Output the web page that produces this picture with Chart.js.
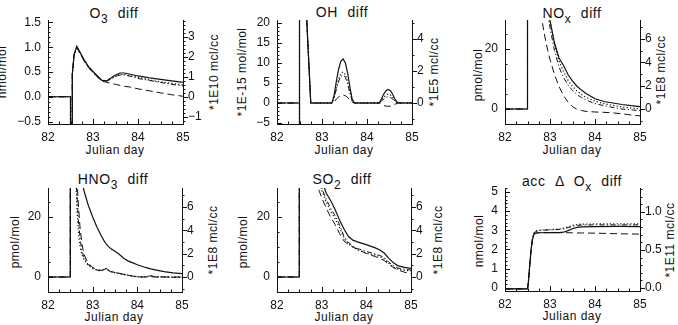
<!DOCTYPE html>
<html>
<head>
<meta charset="utf-8">
<script src="https://cdn.jsdelivr.net/npm/chart.js@4.4.1/dist/chart.umd.min.js"></script>
<style>
  body { margin: 0; background: #fff; width: 678px; height: 325px; position: relative; overflow: hidden;
         font-family: "Liberation Sans", Arial, sans-serif; color: #111; }
  canvas { position: absolute; }
  .t { position: absolute; white-space: nowrap; transform: translate(-50%, -50%); font-size: 12px; letter-spacing: 0.5px; }
  .ttl { font-size: 14px; word-spacing: 5px; letter-spacing: 0.6px; }
  .v { transform: translate(-50%, -50%) rotate(-90deg); }
  sub { font-size: 12px; vertical-align: -5px; line-height: 0; }
</style>
</head>
<body>
<div class="t ttl" style="left:114px;top:13px">O<sub>3</sub> diff</div>
<div class="t ttl" style="left:342px;top:12px">OH diff</div>
<div class="t ttl" style="left:572px;top:13px">NO<sub>x</sub> diff</div>
<div class="t ttl" style="left:113px;top:179px">HNO<sub>3</sub> diff</div>
<div class="t ttl" style="left:342px;top:179px">SO<sub>2</sub> diff</div>
<div class="t ttl" style="left:572px;top:181px">acc Δ O<sub>x</sub> diff</div>

<div class="t" style="left:115px;top:150px">Julian day</div>
<div class="t" style="left:344px;top:150px">Julian day</div>
<div class="t" style="left:572px;top:150px">Julian day</div>
<div class="t" style="left:114px;top:317px">Julian day</div>
<div class="t" style="left:344px;top:317px">Julian day</div>
<div class="t" style="left:572px;top:316px">Julian day</div>

<div class="t v" style="left:2px;top:72px">nmol/mol</div>
<div class="t v" style="left:242px;top:72px">*1E-15 mol/mol</div>
<div class="t v" style="left:478px;top:75px">pmol/mol</div>
<div class="t v" style="left:15px;top:242px">pmol/mol</div>
<div class="t v" style="left:243px;top:242px">pmol/mol</div>
<div class="t v" style="left:479px;top:241px">nmol/mol</div>

<div class="t v" style="left:214px;top:72px">*1E10 mcl/cc</div>
<div class="t v" style="left:434px;top:72px">*1E5 mcl/cc</div>
<div class="t v" style="left:661px;top:70px">*1E8 mcl/cc</div>
<div class="t v" style="left:213px;top:240px">*1E8 mcl/cc</div>
<div class="t v" style="left:438px;top:240px">*1E8 mcl/cc</div>
<div class="t v" style="left:670px;top:240px">*1E11 mcl/cc</div>

<script>
// series order in every panel: solid, dotted, dash-dot, dashed
const dayTicks   = [82, 83, 84, 85];

const o3Day      = [82, 82.5, 82.5, 82.54, 82.54, 82.58, 82.64, 82.7, 82.8, 82.9, 83.0, 83.1, 83.2, 83.3, 83.4, 83.5, 83.6, 83.7, 83.8, 84.0, 84.25, 84.5, 84.75, 85];
const o3Solid    = [0, 0, -0.7, -0.7, 0.45, 0.85, 1.02, 0.92, 0.75, 0.61, 0.51, 0.42, 0.33, 0.32, 0.38, 0.44, 0.48, 0.48, 0.46, 0.42, 0.38, 0.35, 0.32, 0.29];
const o3Dotted   = [0, 0, -0.7, -0.7, 0.45, 0.85, 1.01, 0.91, 0.74, 0.6, 0.5, 0.41, 0.33, 0.32, 0.37, 0.42, 0.45, 0.45, 0.43, 0.39, 0.34, 0.3, 0.27, 0.24];
const o3DashDot  = [0, 0, -0.7, -0.7, 0.45, 0.85, 1.0, 0.9, 0.73, 0.59, 0.49, 0.4, 0.32, 0.31, 0.36, 0.41, 0.44, 0.44, 0.42, 0.37, 0.33, 0.29, 0.25, 0.22];
const o3Dashed   = [0, 0, -0.7, -0.7, 0.45, 0.85, 1.0, 0.9, 0.73, 0.59, 0.49, 0.4, 0.32, 0.29, 0.27, 0.25, 0.23, 0.21, 0.2, 0.16, 0.12, 0.08, 0.04, 0.01];

const ohDay      = [82, 82.5, 82.5, 82.5, 82.66, 82.75, 83.22, 83.27, 83.32, 83.37, 83.42, 83.47, 83.52, 83.57, 83.62, 83.67, 83.72, 84.27, 84.32, 84.37, 84.42, 84.47, 84.52, 84.57, 84.62, 84.67, 84.72, 85];
const ohSolid    = [0, 0, -8, 30, 21, 0, 0, 2, 5.5, 8.5, 10.5, 11, 10, 7.5, 4, 1, 0, 0, 1, 2.2, 3.1, 3.4, 3.1, 2.2, 1, 0.2, 0, 0];
const ohDotted   = [0, 0, -8, 30, 21, 0, 0, 1.4, 4, 6, 7.4, 7.8, 7.1, 5.3, 2.8, 0.7, 0, 0, 0.6, 1.4, 2, 2.2, 2, 1.4, 0.6, 0.1, 0, 0];
const ohDashDot  = [0, 0, -8, 30, 21, 0, 0, 1.2, 3.5, 5.4, 6.7, 7, 6.4, 4.8, 2.5, 0.6, 0, 0, 0.4, 1, 1.4, 1.6, 1.4, 1, 0.4, 0.1, 0, 0];
const ohDashed   = [0, 0, -8, 30, 21, 0, 0, 0.3, 1, 1.5, 1.9, 2, 1.8, 1.4, 0.7, 0.2, 0, 0, -0.3, -0.6, -0.8, -0.8, -0.8, -0.6, -0.3, -0.1, 0, 0];

const noxDay     = [82, 82.5, 82.5, 82.8, 82.85, 82.9, 82.95, 83.0, 83.1, 83.2, 83.3, 83.4, 83.5, 83.6, 83.7, 83.8, 84.0, 84.2, 84.4, 84.6, 84.8, 85];
const noxSolid   = [0, 0, 45, 45, 45, 40, 34, 29.5, 22, 17, 14.5, 11.5, 9.3, 7.6, 6.3, 5.2, 3.4, 2.5, 2, 1.5, 1.1, 0.8];
const noxDotted  = [0, 0, 45, 45, 45, 41, 35, 29.5, 21.5, 16, 12.5, 9.6, 7.5, 6, 4.8, 3.9, 2.6, 1.8, 1.2, 0.7, 0.3, 0.1];
const noxDashDot = [0, 0, 45, 45, 45, 38, 32, 27, 19.5, 14, 10.5, 8, 6.2, 4.8, 3.8, 3, 1.8, 1.1, 0.5, 0, -0.3, -0.5];
const noxDashed  = [0, 0, 45, 32, 27, 23, 19.5, 16.5, 11.5, 7.5, 4.5, 2.3, 0.8, -0.1, -0.5, -0.8, -1.0, -1.1, -1.3, -1.6, -2.0, -2.3];

const hno3Day     = [82, 82.5, 82.5, 82.6, 82.63, 82.65, 82.68, 82.72, 82.76, 82.8, 82.85, 82.9, 83.0, 83.1, 83.2, 83.25, 83.3, 83.35, 83.4, 83.5, 83.6, 83.7, 83.8, 83.9, 84.0, 84.1, 84.2, 84.3, 84.4, 84.6, 84.8, 85];
const hno3Solid   = [0, 0, 45, 45, 45, 45, 45, 45, 40, 29, 26.5, 24, 20, 16.5, 13.5, 12.2, 11, 10.2, 9.5, 8.6, 7.5, 6.2, 5.3, 4.7, 4.1, 3.6, 3.1, 2.7, 2.4, 1.8, 1.4, 1.1];
const hno3Dotted  = [0, 0, 45, 45, 29.7, 22, 15, 10, 7.5, 6, 4.8, 3.9, 2.8, 2.2, 2, 2.4, 2.8, 2.2, 1.8, 1.4, 1.1, 0.8, 0.5, 0.2, 0, 0, 0.1, 0.4, 0.1, 0, 0, 0];
const hno3DashDot = [0, 0, 45, 38, 31, 27, 19, 12.5, 8.8, 6.8, 5.2, 4.1, 3, 2.3, 2.1, 2.6, 3, 2.3, 1.9, 1.5, 1.2, 0.9, 0.6, 0.3, 0.1, 0, 0.1, 0.4, 0.1, 0, -0.1, -0.1];
const hno3Dashed  = [0, 0, 45, 45, 42, 33, 24, 16, 11, 8, 6, 4.6, 3.2, 2.5, 2.2, 2.5, 2.8, 2.2, 1.8, 1.5, 1.2, 0.9, 0.6, 0.3, 0.1, 0, 0, 0.1, 0, 0, 0, 0];

const so2Day     = [82, 82.5, 82.5, 82.9, 82.95, 83.0, 83.1, 83.2, 83.3, 83.4, 83.5, 83.6, 83.7, 83.8, 84.0, 84.2, 84.3, 84.4, 84.5, 84.6, 84.7, 84.85, 85];
const so2Solid   = [0, 0, 45, 40, 36, 32.5, 28, 25.5, 22.5, 19, 16, 13.5, 12.3, 11.7, 10.8, 9.7, 9, 8, 6.3, 4.8, 3.8, 3.2, 2.9];
const so2Dotted  = [0, 0, 45, 34, 31, 29, 25, 22, 19.5, 16.5, 13, 11, 10, 9, 8, 7.3, 6.8, 6, 4.6, 3.4, 2.7, 2.2, 2];
const so2DashDot = [0, 0, 45, 36, 32, 29.7, 26, 23, 20.5, 17.5, 13.5, 11.5, 10.3, 9.5, 8.5, 7.7, 7.2, 6.5, 5, 3.8, 3, 2.6, 2.3];
const so2Dashed  = [0, 0, 45, 31, 28.5, 26.5, 23, 20, 17.5, 14.5, 12, 10.8, 10, 9.3, 7.8, 6.8, 6.2, 5.5, 4.3, 3.2, 2.4, 1.6, 1.1];

const oxDay      = [82, 82.5, 82.52, 82.55, 82.58, 82.61, 82.64, 82.68, 82.75, 83.0, 83.2, 83.3, 83.4, 83.5, 83.6, 83.7, 84.0, 84.5, 85];
const oxSolid    = [-0.05, -0.05, 0.3, 1.2, 2.0, 2.5, 2.78, 2.85, 2.87, 2.88, 2.88, 2.9, 2.98, 3.08, 3.15, 3.18, 3.19, 3.2, 3.19];
const oxDotted   = [-0.05, -0.05, 0.3, 1.2, 2.0, 2.55, 2.85, 2.95, 3.0, 3.04, 3.06, 3.1, 3.18, 3.25, 3.3, 3.32, 3.33, 3.34, 3.33];
const oxDashDot  = [-0.05, -0.05, 0.3, 1.2, 2.0, 2.55, 2.84, 2.94, 2.99, 3.02, 3.04, 3.07, 3.14, 3.2, 3.25, 3.27, 3.28, 3.28, 3.28];
const oxDashed   = [-0.05, -0.05, 0.3, 1.2, 2.0, 2.5, 2.78, 2.85, 2.87, 2.88, 2.88, 2.88, 2.87, 2.87, 2.86, 2.86, 2.85, 2.82, 2.8];

Chart.defaults.font.family = '"Liberation Sans", Arial, sans-serif';
Chart.defaults.font.size = 12;
Chart.defaults.color = '#111';

const lineStyles = [
  { borderDash: [], borderWidth: 1.2 },
  { borderDash: [1.2, 2.2], borderWidth: 1.2 },
  { borderDash: [5, 2.5, 1.2, 2.5], borderWidth: 1 },
  { borderDash: [7, 4], borderWidth: 1 }
];

const minus = s => s.replace('-', '\u2212');

// IDL-style tick marks: inside on left/bottom, outside on the right axis, with minor ticks
const idlTicks = {
  id: 'idlTicks',
  afterDraw(chart, args, opts) {
    const ctx = chart.ctx;
    const area = chart.chartArea;
    ctx.save();
    ctx.strokeStyle = '#111';
    ctx.lineWidth = 1;
    for (const id of ['x', 'y', 'y2']) {
      const s = chart.scales[id];
      const step = opts[id][0], minor = opts[id][1];
      const ms = step / minor;
      const start = Math.ceil(s.min / ms - 1e-6), end = Math.floor(s.max / ms + 1e-6);
      for (let i = start; i <= end; i++) {
        const len = i % minor === 0 ? 5 : 2.5;
        const p = Math.round(s.getPixelForValue(i * ms)) + 0.5;
        ctx.beginPath();
        if (id === 'x') { ctx.moveTo(p, area.bottom); ctx.lineTo(p, area.bottom - len); }
        else if (id === 'y') { ctx.moveTo(area.left, p); ctx.lineTo(area.left + len, p); }
        else { ctx.moveTo(area.right, p); ctx.lineTo(area.right + len, p); }
        ctx.stroke();
      }
    }
    ctx.restore();
  }
};

const panels = [
  { cell: [0, 0, 226, 162], plot: [48, 183, 20, 124], days: o3Day, series: [o3Solid, o3Dotted, o3DashDot, o3Dashed],
    y: [-0.55, 1.55, 0.5, 5, v => v.toFixed(1)], y2: [-1.36, 3.84, 1, 5, v => v.toFixed(0)] },
  { cell: [226, 0, 226, 162], plot: [277, 412, 20, 124], days: ohDay, series: [ohSolid, ohDotted, ohDashDot, ohDashed],
    y: [-5.25, 20.75, 5, 5, v => v.toFixed(0)], y2: [-1.31, 5.19, 2, 2, v => v.toFixed(0)] },
  { cell: [452, 0, 226, 162], plot: [505, 640, 20, 124], days: noxDay, series: [noxSolid, noxDotted, noxDashDot, noxDashed],
    y: [-5, 29.67, 20, 4, v => v.toFixed(0)], y2: [-1.29, 7.63, 2, 2, v => v.toFixed(0)] },
  { cell: [0, 162, 226, 163], plot: [48, 182, 188, 292], days: hno3Day, series: [hno3Solid, hno3Dotted, hno3DashDot, hno3Dashed],
    y: [-5, 29.67, 20, 4, v => v.toFixed(0)], y2: [-1.29, 7.63, 2, 2, v => v.toFixed(0)] },
  { cell: [226, 162, 226, 163], plot: [277, 411, 188, 292], days: so2Day, series: [so2Solid, so2Dotted, so2DashDot, so2Dashed],
    y: [-5, 29.67, 20, 4, v => v.toFixed(0)], y2: [-1.29, 7.63, 2, 2, v => v.toFixed(0)] },
  { cell: [452, 162, 226, 163], plot: [505, 640, 188, 291], days: oxDay, series: [oxSolid, oxDotted, oxDashDot, oxDashed],
    y: [-0.16, 5.2, 1, 5, v => v.toFixed(0)], y2: [-0.04, 1.313, 0.5, 5, v => v.toFixed(1)] }
];

panels.forEach(p => {
  const [cx, cy, cw, ch] = p.cell;
  const [pl, pr, pt, pb] = p.plot;
  const canvas = document.createElement('canvas');
  canvas.width = cw;
  canvas.height = ch;
  canvas.style.left = cx + 'px';
  canvas.style.top = cy + 'px';
  document.body.appendChild(canvas);

  const yAxis = (cfg, pos, width) => ({
    type: 'linear', position: pos, min: cfg[0], max: cfg[1],
    grid: { display: false, drawTicks: false },
    border: { display: true, color: '#111', width: 1 },
    ticks: { stepSize: cfg[2], includeBounds: false, autoSkip: false, padding: pos === 'left' ? 7 : 5,
             callback: v => minus(cfg[4](v)) },
    afterFit: s => { s.width = width; }
  });

  new Chart(canvas, {
    type: 'line',
    data: {
      datasets: p.series.map((vals, i) => ({
        data: p.days.map((d, j) => ({ x: d, y: vals[j] })),
        borderColor: '#111',
        pointRadius: 0,
        tension: 0,
        fill: false,
        ...lineStyles[i]
      }))
    },
    options: {
      responsive: false,
      animation: false,
      events: [],
      layout: { padding: { top: pt - cy, left: 0, right: 0, bottom: 0 } },
      plugins: {
        legend: { display: false },
        tooltip: { enabled: false },
        idlTicks: { x: [1, 4], y: [p.y[2], p.y[3]], y2: [p.y2[2], p.y2[3]] }
      },
      scales: {
        x: {
          type: 'linear', min: 82, max: 85,
          grid: { display: false, drawTicks: false },
          border: { display: true, color: '#111', width: 1 },
          ticks: { autoSkip: false, padding: 6, maxRotation: 0, callback: v => String(v) },
          afterBuildTicks: s => { s.ticks = dayTicks.map(v => ({ value: v })); },
          afterFit: s => { s.height = cy + ch - pb; }
        },
        y: yAxis(p.y, 'left', pl - cx),
        y2: yAxis(p.y2, 'right', cx + cw - pr)
      }
    },
    plugins: [idlTicks]
  });
});
</script>
</body>
</html>
